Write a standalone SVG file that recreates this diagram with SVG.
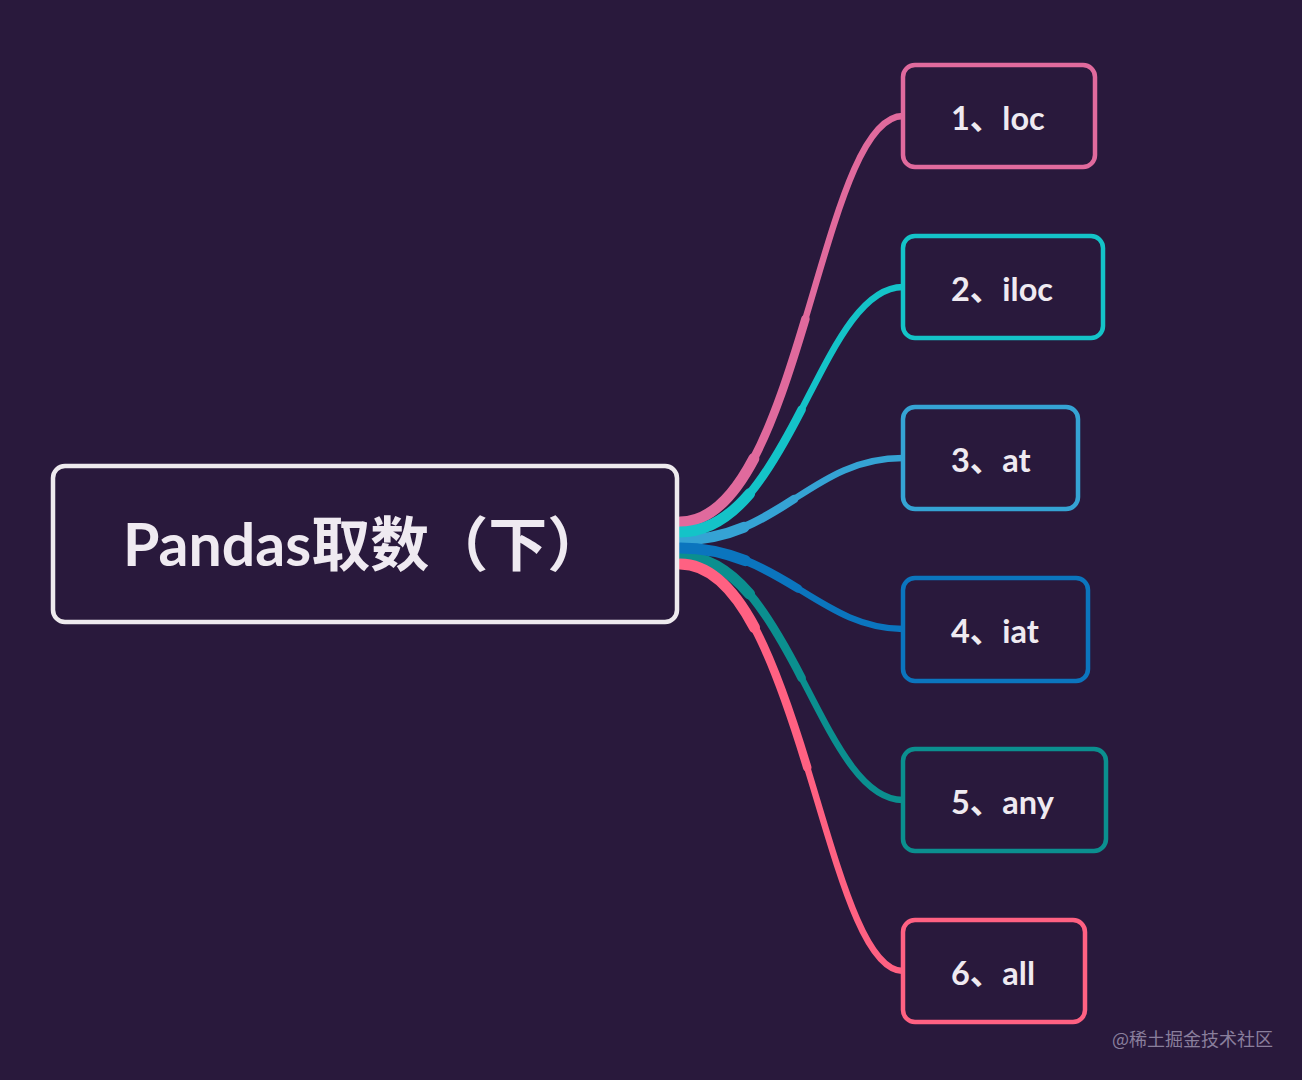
<svg xmlns="http://www.w3.org/2000/svg" width="1302" height="1080" viewBox="0 0 1302 1080">
<style>
.bg{fill:#29193c}
.box{fill:#29193c;stroke-width:4.5}
.lbl{font-family:Lato,"Noto Sans CJK SC",sans-serif;font-weight:700;fill:#efeaf1;font-size:32.5px}
.root{font-family:Lato,"Noto Sans CJK SC",sans-serif;font-weight:700;fill:#efeaf1;font-size:59px}
.c path{fill:none;stroke-linecap:round}
.w1{stroke-width:6.5}
.w2{stroke-width:8.5}
.w3{stroke-width:11}
.wm{font-family:"Noto Sans CJK SC",sans-serif;font-size:18px;fill:#8a7f9c}
</style>
<rect class="bg" x="0" y="0" width="1302" height="1080"/>
<g id="connectors" class="c">
  <g id="c3" stroke="#35a3d4">
    <path class="w1" d="M680,540 C780,540 810,458 903,458"/>
    <path class="w2" d="M680,540 C730,540 762.5,519.5 794.1,499"/>
    <path class="w3" d="M680,540 C705,540 725.6,534.9 744,527.2"/>
  </g>
  <g id="c1" stroke="#e06a9d">
    <path class="w1" d="M680,522 C800,522 820,116 903,116"/>
    <path class="w2" d="M680,522 C740,522 775,420.5 805.4,319"/>
    <path class="w3" d="M680,522 C710,522 733.75,496.6 753.8,458.6"/>
  </g>
  <g id="c2" stroke="#14c3c8">
    <path class="w1" d="M680,532 C790,532 820,287 903,287"/>
    <path class="w2" d="M680,532 C735,532 770,470.75 801.6,409.5"/>
    <path class="w3" d="M680,532 C707.5,532 730,516.7 749.6,493.7"/>
  </g>
  <g id="c5" stroke="#0b8f8f">
    <path class="w1" d="M680,556 C790,556 820,800 903,800"/>
    <path class="w2" d="M680,556 C735,556 770,617 801.6,678"/>
    <path class="w3" d="M680,556 C707.5,556 730,571.25 749.6,594.1"/>
  </g>
  <g id="c6" stroke="#ff6182">
    <path class="w1" d="M680,564 C800,564 825,971 903,971"/>
    <path class="w2" d="M680,564 C740,564 776.25,665.75 807.25,767.5"/>
    <path class="w3" d="M680,564 C710,564 734.1,589.4 754.5,627.6"/>
  </g>
  <g id="c4" stroke="#0b75be">
    <path class="w1" d="M680,548 C780,548 820,629 903,629"/>
    <path class="w2" d="M680,548 C730,548 765,568.25 797.9,588.5"/>
    <path class="w3" d="M680,548 C705,548 726.25,553.1 745.4,560.7"/>
  </g>
</g>
<g id="root">
  <rect class="box" x="53" y="466" width="624" height="156" rx="12" stroke="#eeeaee"/>
  <text class="root" x="123" y="566">Pandas取数（下）</text>
</g>
<g id="n1">
  <rect class="box" x="903" y="65" width="192" height="102" rx="12" stroke="#e06a9d"/>
  <text class="lbl" x="951" y="130">1、loc</text>
</g>
<g id="n2">
  <rect class="box" x="903" y="236" width="200" height="102" rx="12" stroke="#14c3c8"/>
  <text class="lbl" x="951" y="301">2、iloc</text>
</g>
<g id="n3">
  <rect class="box" x="903" y="407" width="175" height="102" rx="12" stroke="#35a3d4"/>
  <text class="lbl" x="951" y="472">3、at</text>
</g>
<g id="n4">
  <rect class="box" x="903" y="578" width="185" height="103" rx="12" stroke="#0b75be"/>
  <text class="lbl" x="951" y="643">4、iat</text>
</g>
<g id="n5">
  <rect class="box" x="903" y="749" width="203" height="102" rx="12" stroke="#0b8f8f"/>
  <text class="lbl" x="951" y="814">5、any</text>
</g>
<g id="n6">
  <rect class="box" x="903" y="920" width="182" height="102" rx="12" stroke="#ff6182"/>
  <text class="lbl" x="951" y="985">6、all</text>
</g>
<text class="wm" x="1112" y="1046">@稀土掘金技术社区</text>
</svg>
